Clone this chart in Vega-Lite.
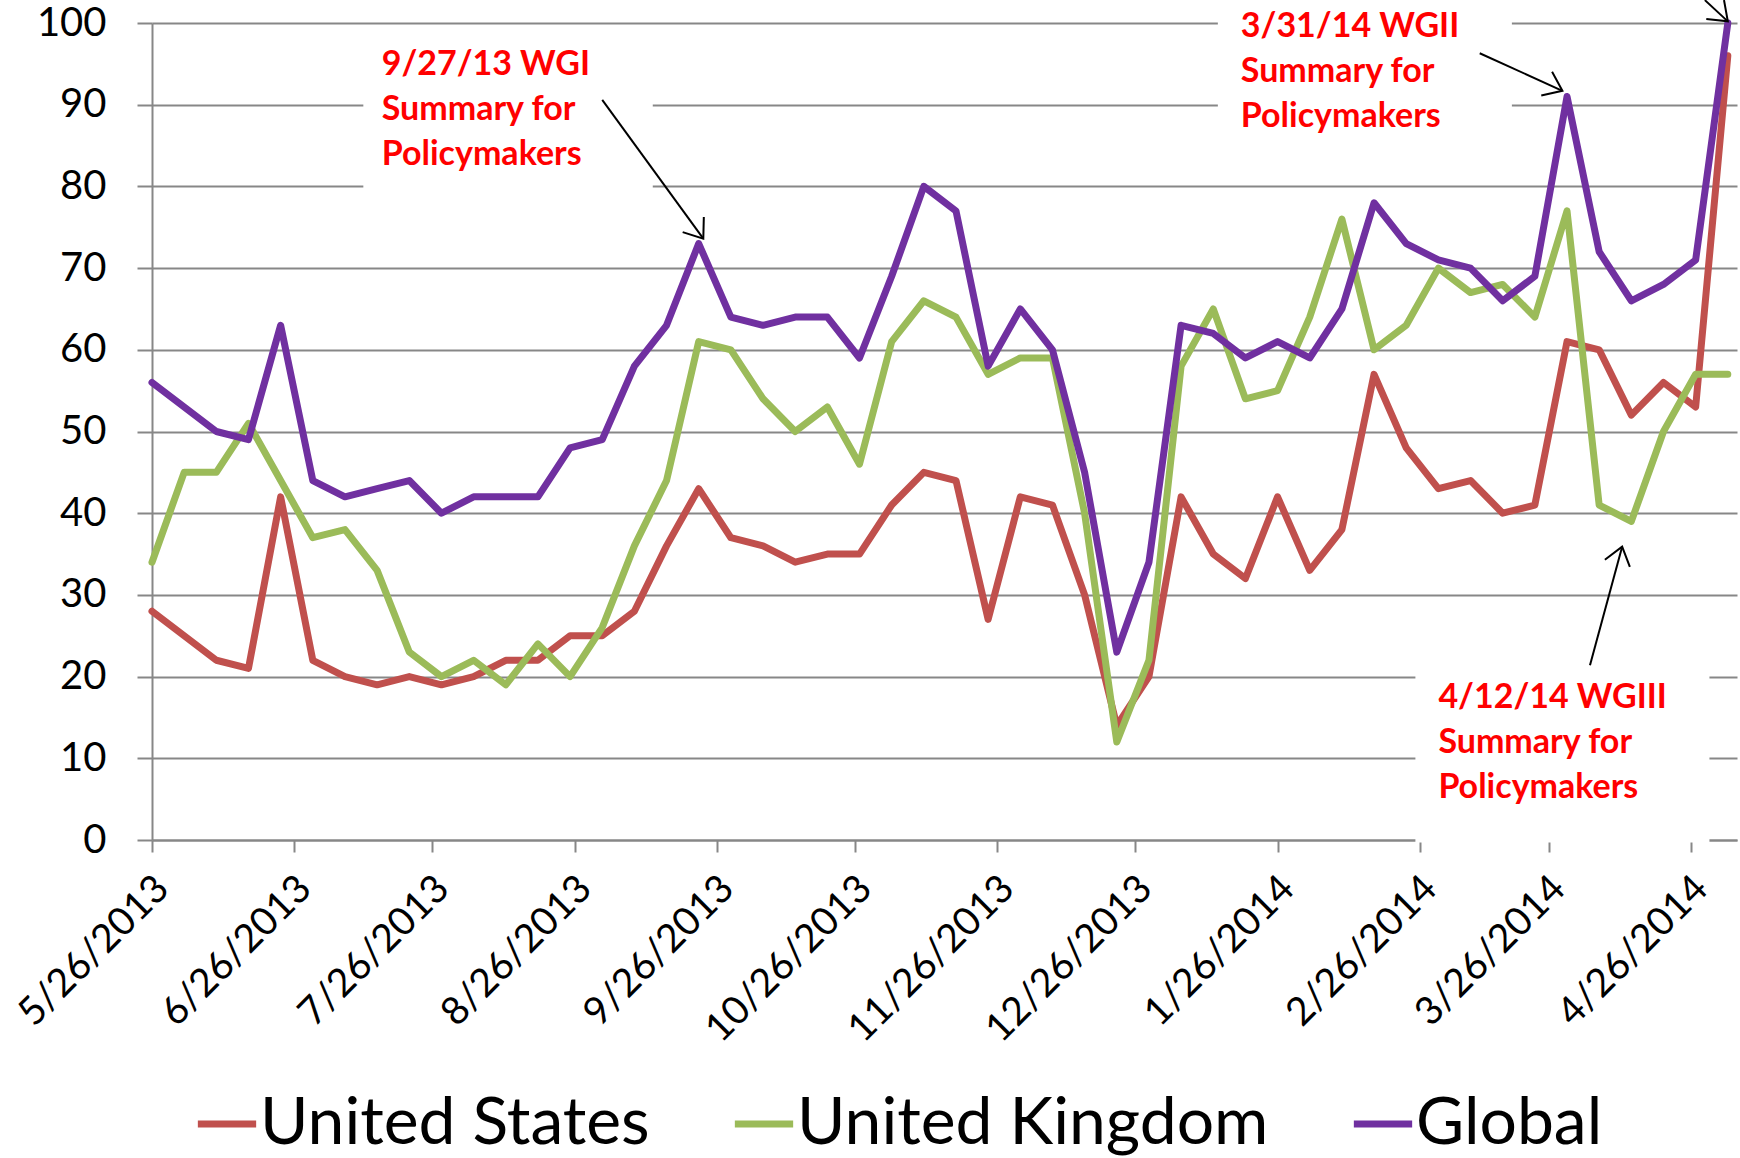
{
  "$schema": "https://vega.github.io/schema/vega-lite/v6.json",
  "width": 1585,
  "height": 817,
  "autosize": {"type": "none"},
  "padding": {"left": 152, "top": 23, "right": 3, "bottom": 318},
  "background": "white",
  "config": {
    "view": {"stroke": null},
    "font": "Lato",
    "axis": {"zindex": 0},
    "axisY": {"gridColor": "#878787", "gridWidth": 2, "domainColor": "#878787", "domainWidth": 2, "tickColor": "#878787", "tickWidth": 2, "tickSize": 15, "labelFontSize": 40, "labelFont": "Lato", "labelColor": "black", "labelPadding": 31},
    "axisX": {"grid": false, "domainColor": "#878787", "domainWidth": 2, "tickColor": "#878787", "tickWidth": 2, "tickSize": 12, "labelFontSize": 39, "labelFont": "Lato", "labelColor": "black", "labelAngle": -45, "labelAlign": "right", "labelBaseline": "middle", "labelPadding": 30, "labelOffset": 10, "labelOverlap": false, "labelLimit": 500},
    "legend": {"orient": "none", "legendX": 42, "legendY": 1068, "direction": "horizontal", "symbolType": "stroke", "symbolStrokeWidth": 7, "symbolSize": 3400, "labelFontSize": 66, "labelFont": "Lato", "labelColor": "black", "labelLimit": 800, "columnPadding": 70, "labelOffset": 0}
  },
  "datasets": {
    "series": [
      {"date": "2013/05/26", "country": "United States", "value": 28},
      {"date": "2013/06/02", "country": "United States", "value": 25},
      {"date": "2013/06/09", "country": "United States", "value": 22},
      {"date": "2013/06/16", "country": "United States", "value": 21},
      {"date": "2013/06/23", "country": "United States", "value": 42},
      {"date": "2013/06/30", "country": "United States", "value": 22},
      {"date": "2013/07/07", "country": "United States", "value": 20},
      {"date": "2013/07/14", "country": "United States", "value": 19},
      {"date": "2013/07/21", "country": "United States", "value": 20},
      {"date": "2013/07/28", "country": "United States", "value": 19},
      {"date": "2013/08/04", "country": "United States", "value": 20},
      {"date": "2013/08/11", "country": "United States", "value": 22},
      {"date": "2013/08/18", "country": "United States", "value": 22},
      {"date": "2013/08/25", "country": "United States", "value": 25},
      {"date": "2013/09/01", "country": "United States", "value": 25},
      {"date": "2013/09/08", "country": "United States", "value": 28},
      {"date": "2013/09/15", "country": "United States", "value": 36},
      {"date": "2013/09/22", "country": "United States", "value": 43},
      {"date": "2013/09/29", "country": "United States", "value": 37},
      {"date": "2013/10/06", "country": "United States", "value": 36},
      {"date": "2013/10/13", "country": "United States", "value": 34},
      {"date": "2013/10/20", "country": "United States", "value": 35},
      {"date": "2013/10/27", "country": "United States", "value": 35},
      {"date": "2013/11/03", "country": "United States", "value": 41},
      {"date": "2013/11/10", "country": "United States", "value": 45},
      {"date": "2013/11/17", "country": "United States", "value": 44},
      {"date": "2013/11/24", "country": "United States", "value": 27},
      {"date": "2013/12/01", "country": "United States", "value": 42},
      {"date": "2013/12/08", "country": "United States", "value": 41},
      {"date": "2013/12/15", "country": "United States", "value": 30},
      {"date": "2013/12/22", "country": "United States", "value": 14},
      {"date": "2013/12/29", "country": "United States", "value": 20},
      {"date": "2014/01/05", "country": "United States", "value": 42},
      {"date": "2014/01/12", "country": "United States", "value": 35},
      {"date": "2014/01/19", "country": "United States", "value": 32},
      {"date": "2014/01/26", "country": "United States", "value": 42},
      {"date": "2014/02/02", "country": "United States", "value": 33},
      {"date": "2014/02/09", "country": "United States", "value": 38},
      {"date": "2014/02/16", "country": "United States", "value": 57},
      {"date": "2014/02/23", "country": "United States", "value": 48},
      {"date": "2014/03/02", "country": "United States", "value": 43},
      {"date": "2014/03/09", "country": "United States", "value": 44},
      {"date": "2014/03/16", "country": "United States", "value": 40},
      {"date": "2014/03/23", "country": "United States", "value": 41},
      {"date": "2014/03/30", "country": "United States", "value": 61},
      {"date": "2014/04/06", "country": "United States", "value": 60},
      {"date": "2014/04/13", "country": "United States", "value": 52},
      {"date": "2014/04/20", "country": "United States", "value": 56},
      {"date": "2014/04/27", "country": "United States", "value": 53},
      {"date": "2014/05/04", "country": "United States", "value": 96},
      {"date": "2013/05/26", "country": "United Kingdom", "value": 34},
      {"date": "2013/06/02", "country": "United Kingdom", "value": 45},
      {"date": "2013/06/09", "country": "United Kingdom", "value": 45},
      {"date": "2013/06/16", "country": "United Kingdom", "value": 51},
      {"date": "2013/06/23", "country": "United Kingdom", "value": 44},
      {"date": "2013/06/30", "country": "United Kingdom", "value": 37},
      {"date": "2013/07/07", "country": "United Kingdom", "value": 38},
      {"date": "2013/07/14", "country": "United Kingdom", "value": 33},
      {"date": "2013/07/21", "country": "United Kingdom", "value": 23},
      {"date": "2013/07/28", "country": "United Kingdom", "value": 20},
      {"date": "2013/08/04", "country": "United Kingdom", "value": 22},
      {"date": "2013/08/11", "country": "United Kingdom", "value": 19},
      {"date": "2013/08/18", "country": "United Kingdom", "value": 24},
      {"date": "2013/08/25", "country": "United Kingdom", "value": 20},
      {"date": "2013/09/01", "country": "United Kingdom", "value": 26},
      {"date": "2013/09/08", "country": "United Kingdom", "value": 36},
      {"date": "2013/09/15", "country": "United Kingdom", "value": 44},
      {"date": "2013/09/22", "country": "United Kingdom", "value": 61},
      {"date": "2013/09/29", "country": "United Kingdom", "value": 60},
      {"date": "2013/10/06", "country": "United Kingdom", "value": 54},
      {"date": "2013/10/13", "country": "United Kingdom", "value": 50},
      {"date": "2013/10/20", "country": "United Kingdom", "value": 53},
      {"date": "2013/10/27", "country": "United Kingdom", "value": 46},
      {"date": "2013/11/03", "country": "United Kingdom", "value": 61},
      {"date": "2013/11/10", "country": "United Kingdom", "value": 66},
      {"date": "2013/11/17", "country": "United Kingdom", "value": 64},
      {"date": "2013/11/24", "country": "United Kingdom", "value": 57},
      {"date": "2013/12/01", "country": "United Kingdom", "value": 59},
      {"date": "2013/12/08", "country": "United Kingdom", "value": 59},
      {"date": "2013/12/15", "country": "United Kingdom", "value": 40},
      {"date": "2013/12/22", "country": "United Kingdom", "value": 12},
      {"date": "2013/12/29", "country": "United Kingdom", "value": 22},
      {"date": "2014/01/05", "country": "United Kingdom", "value": 58},
      {"date": "2014/01/12", "country": "United Kingdom", "value": 65},
      {"date": "2014/01/19", "country": "United Kingdom", "value": 54},
      {"date": "2014/01/26", "country": "United Kingdom", "value": 55},
      {"date": "2014/02/02", "country": "United Kingdom", "value": 64},
      {"date": "2014/02/09", "country": "United Kingdom", "value": 76},
      {"date": "2014/02/16", "country": "United Kingdom", "value": 60},
      {"date": "2014/02/23", "country": "United Kingdom", "value": 63},
      {"date": "2014/03/02", "country": "United Kingdom", "value": 70},
      {"date": "2014/03/09", "country": "United Kingdom", "value": 67},
      {"date": "2014/03/16", "country": "United Kingdom", "value": 68},
      {"date": "2014/03/23", "country": "United Kingdom", "value": 64},
      {"date": "2014/03/30", "country": "United Kingdom", "value": 77},
      {"date": "2014/04/06", "country": "United Kingdom", "value": 41},
      {"date": "2014/04/13", "country": "United Kingdom", "value": 39},
      {"date": "2014/04/20", "country": "United Kingdom", "value": 50},
      {"date": "2014/04/27", "country": "United Kingdom", "value": 57},
      {"date": "2014/05/04", "country": "United Kingdom", "value": 57},
      {"date": "2013/05/26", "country": "Global", "value": 56},
      {"date": "2013/06/02", "country": "Global", "value": 53},
      {"date": "2013/06/09", "country": "Global", "value": 50},
      {"date": "2013/06/16", "country": "Global", "value": 49},
      {"date": "2013/06/23", "country": "Global", "value": 63},
      {"date": "2013/06/30", "country": "Global", "value": 44},
      {"date": "2013/07/07", "country": "Global", "value": 42},
      {"date": "2013/07/14", "country": "Global", "value": 43},
      {"date": "2013/07/21", "country": "Global", "value": 44},
      {"date": "2013/07/28", "country": "Global", "value": 40},
      {"date": "2013/08/04", "country": "Global", "value": 42},
      {"date": "2013/08/11", "country": "Global", "value": 42},
      {"date": "2013/08/18", "country": "Global", "value": 42},
      {"date": "2013/08/25", "country": "Global", "value": 48},
      {"date": "2013/09/01", "country": "Global", "value": 49},
      {"date": "2013/09/08", "country": "Global", "value": 58},
      {"date": "2013/09/15", "country": "Global", "value": 63},
      {"date": "2013/09/22", "country": "Global", "value": 73},
      {"date": "2013/09/29", "country": "Global", "value": 64},
      {"date": "2013/10/06", "country": "Global", "value": 63},
      {"date": "2013/10/13", "country": "Global", "value": 64},
      {"date": "2013/10/20", "country": "Global", "value": 64},
      {"date": "2013/10/27", "country": "Global", "value": 59},
      {"date": "2013/11/03", "country": "Global", "value": 69},
      {"date": "2013/11/10", "country": "Global", "value": 80},
      {"date": "2013/11/17", "country": "Global", "value": 77},
      {"date": "2013/11/24", "country": "Global", "value": 58},
      {"date": "2013/12/01", "country": "Global", "value": 65},
      {"date": "2013/12/08", "country": "Global", "value": 60},
      {"date": "2013/12/15", "country": "Global", "value": 45},
      {"date": "2013/12/22", "country": "Global", "value": 23},
      {"date": "2013/12/29", "country": "Global", "value": 34},
      {"date": "2014/01/05", "country": "Global", "value": 63},
      {"date": "2014/01/12", "country": "Global", "value": 62},
      {"date": "2014/01/19", "country": "Global", "value": 59},
      {"date": "2014/01/26", "country": "Global", "value": 61},
      {"date": "2014/02/02", "country": "Global", "value": 59},
      {"date": "2014/02/09", "country": "Global", "value": 65},
      {"date": "2014/02/16", "country": "Global", "value": 78},
      {"date": "2014/02/23", "country": "Global", "value": 73},
      {"date": "2014/03/02", "country": "Global", "value": 71},
      {"date": "2014/03/09", "country": "Global", "value": 70},
      {"date": "2014/03/16", "country": "Global", "value": 66},
      {"date": "2014/03/23", "country": "Global", "value": 69},
      {"date": "2014/03/30", "country": "Global", "value": 91},
      {"date": "2014/04/06", "country": "Global", "value": 72},
      {"date": "2014/04/13", "country": "Global", "value": 66},
      {"date": "2014/04/20", "country": "Global", "value": 68},
      {"date": "2014/04/27", "country": "Global", "value": 71},
      {"date": "2014/05/04", "country": "Global", "value": 100}
    ],
    "boxes": [
      {"start": "2013/07/11", "end": "2013/09/12", "top": 96, "bottom": 75},
      {"start": "2014/01/13", "end": "2014/03/18", "top": 103, "bottom": 83},
      {"start": "2014/02/25", "end": "2014/04/30", "top": 25, "bottom": -0.3}
    ],
    "notes": [
      {"date": "2013/07/15", "value": 93.6, "note": "9/27/13 WGI\nSummary for\nPolicymakers"},
      {"date": "2014/01/18", "value": 98.3, "note": "3/31/14 WGII\nSummary for\nPolicymakers"},
      {"date": "2014/03/02", "value": 16.2, "note": "4/12/14 WGIII\nSummary for\nPolicymakers"}
    ],
    "arrows": [
      {"id": "a1", "from": "2013/09/01", "fromValue": 90.6, "to": "2013/09/23", "toValue": 73.6},
      {"id": "a2", "from": "2014/03/11", "fromValue": 96.3, "to": "2014/03/29", "toValue": 91.7},
      {"id": "a3", "from": "2014/04/04", "fromValue": 21.4, "to": "2014/04/11", "toValue": 35.9},
      {"id": "a4", "from": "2014/04/29", "fromValue": 102.8, "to": "2014/05/04", "toValue": 100.2}
    ]
  },
  "layer": [
    {
      "data": {"name": "series"},
      "mark": {"type": "line", "strokeWidth": 7, "strokeJoin": "round", "strokeCap": "round"},
      "encoding": {
        "x": {"field": "date", "type": "temporal", "title": null,
          "scale": {"domain": [{"year": 2013, "month": 5, "date": 26}, {"year": 2014, "month": 5, "date": 6}], "nice": false},
          "axis": {"format": "%-m/%-d/%Y", "values": [
            {"year": 2013, "month": 5, "date": 26}, {"year": 2013, "month": 6, "date": 26}, {"year": 2013, "month": 7, "date": 26},
            {"year": 2013, "month": 8, "date": 26}, {"year": 2013, "month": 9, "date": 26}, {"year": 2013, "month": 10, "date": 26},
            {"year": 2013, "month": 11, "date": 26}, {"year": 2013, "month": 12, "date": 26}, {"year": 2014, "month": 1, "date": 26},
            {"year": 2014, "month": 2, "date": 26}, {"year": 2014, "month": 3, "date": 26}, {"year": 2014, "month": 4, "date": 26}]}},
        "y": {"field": "value", "type": "quantitative", "title": null,
          "scale": {"domain": [0, 100], "nice": false, "zero": false},
          "axis": {"values": [0, 10, 20, 30, 40, 50, 60, 70, 80, 90, 100]}},
        "color": {"field": "country", "type": "nominal", "title": null,
          "scale": {"domain": ["United States", "United Kingdom", "Global"], "range": ["#C0504D", "#9BBB59", "#7030A0"]}}
      }
    },
    {
      "data": {"name": "boxes"},
      "mark": {"type": "rect", "fill": "white"},
      "encoding": {
        "x": {"field": "start", "type": "temporal", "title": null},
        "x2": {"field": "end"},
        "y": {"field": "top", "type": "quantitative", "title": null},
        "y2": {"field": "bottom"}
      }
    },
    {
      "data": {"name": "arrows"},
      "mark": {"type": "rule", "color": "black", "strokeWidth": 2},
      "encoding": {
        "x": {"field": "from", "type": "temporal", "title": null},
        "x2": {"field": "to"},
        "y": {"field": "fromValue", "type": "quantitative", "title": null},
        "y2": {"field": "toValue"}
      }
    },
    {
      "data": {"name": "arrows"},
      "transform": [{"filter": "datum.id == 'a1'"}],
      "mark": {"type": "point", "shape": "M-1,-0.75L0,0L-1,0.75", "filled": false, "stroke": "black", "strokeWidth": 2, "size": 1200, "angle": 54.5, "opacity": 1},
      "encoding": {"x": {"field": "to", "type": "temporal", "title": null}, "y": {"field": "toValue", "type": "quantitative", "title": null}}
    },
    {
      "data": {"name": "arrows"},
      "transform": [{"filter": "datum.id == 'a2'"}],
      "mark": {"type": "point", "shape": "M-1,-0.75L0,0L-1,0.75", "filled": false, "stroke": "black", "strokeWidth": 2, "size": 1200, "angle": 24.6, "opacity": 1},
      "encoding": {"x": {"field": "to", "type": "temporal", "title": null}, "y": {"field": "toValue", "type": "quantitative", "title": null}}
    },
    {
      "data": {"name": "arrows"},
      "transform": [{"filter": "datum.id == 'a3'"}],
      "mark": {"type": "point", "shape": "M-1,-0.75L0,0L-1,0.75", "filled": false, "stroke": "black", "strokeWidth": 2, "size": 1200, "angle": -74, "opacity": 1},
      "encoding": {"x": {"field": "to", "type": "temporal", "title": null}, "y": {"field": "toValue", "type": "quantitative", "title": null}}
    },
    {
      "data": {"name": "arrows"},
      "transform": [{"filter": "datum.id == 'a4'"}],
      "mark": {"type": "point", "shape": "M-1,-0.75L0,0L-1,0.75", "filled": false, "stroke": "black", "strokeWidth": 2, "size": 1200, "angle": 43, "opacity": 1},
      "encoding": {"x": {"field": "to", "type": "temporal", "title": null}, "y": {"field": "toValue", "type": "quantitative", "title": null}}
    },
    {
      "data": {"name": "notes"},
      "mark": {"type": "text", "align": "left", "baseline": "alphabetic", "font": "Lato", "fontWeight": "bold", "fontSize": 34, "lineHeight": 45, "color": "#FF0000", "lineBreak": "\n"},
      "encoding": {
        "x": {"field": "date", "type": "temporal", "title": null},
        "y": {"field": "value", "type": "quantitative", "title": null},
        "text": {"field": "note", "type": "nominal"}
      }
    }
  ]
}
